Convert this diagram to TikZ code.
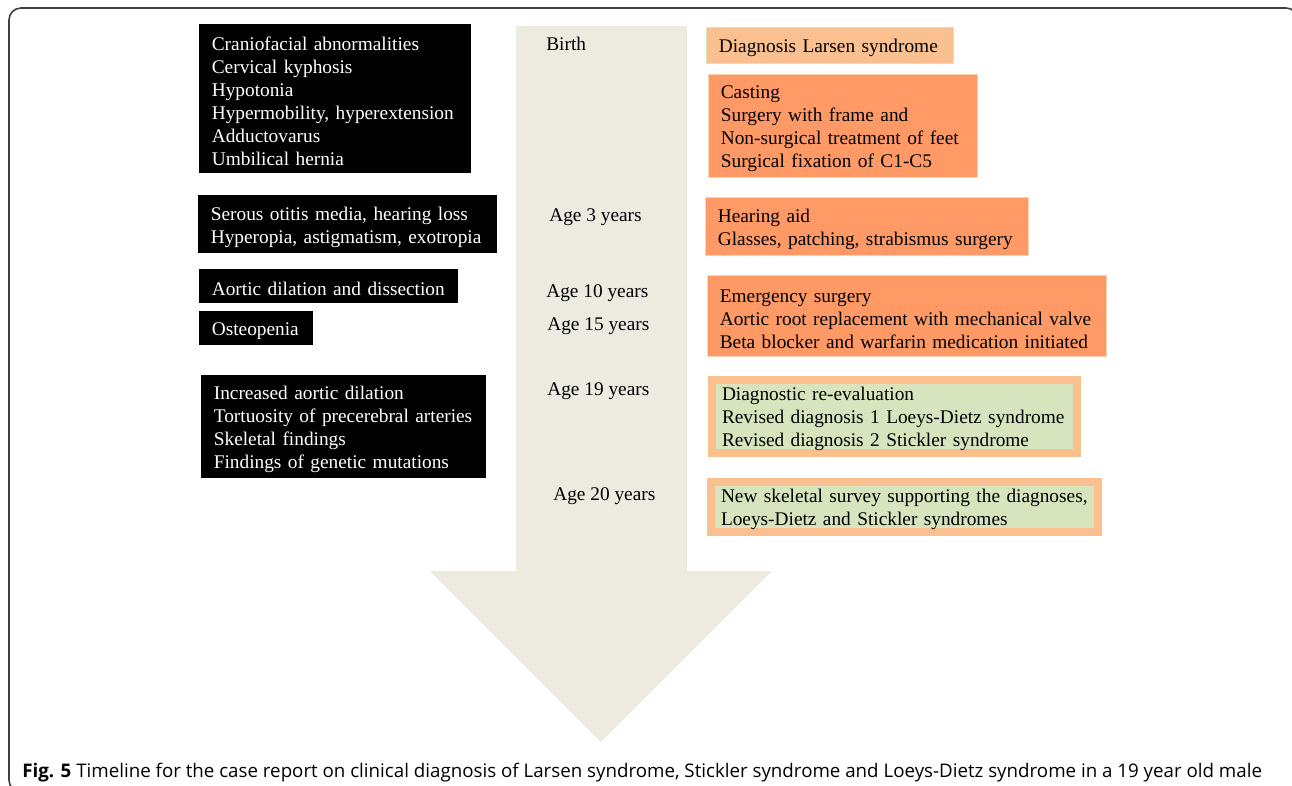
\documentclass[tikz,border=0pt]{standalone}
\usepackage{fontspec}
\setmainfont{Liberation Serif}
\newfontfamily\capfont{Open Sans}
\definecolor{arrowbeige}{RGB}{237,234,224}
\definecolor{peach}{RGB}{250,192,144}
\definecolor{careorange}{RGB}{255,153,102}
\definecolor{dxgreen}{RGB}{215,228,189}
\newcommand{\boxfont}{\fontsize{11}{13.1}\selectfont}
\begin{document}
\begin{tikzpicture}[x=0.02cm, y=-0.02cm,
    every node/.style={font=\boxfont},
    tbox/.style={anchor=north west, align=left, inner ysep=0pt,
      execute at begin node={\rightskip=0pt plus 1fil minus 1cm\rule{0pt}{0.38cm}}},
    sign/.style={tbox, fill=black, text=white, inner xsep=0.25cm},
    care/.style={tbox, fill=careorange, draw=peach!70, line width=0.4pt, inner xsep=0.25cm},
    dx/.style={tbox, fill=dxgreen, draw=peach, line width=0.16cm, inner xsep=0.2cm},
    age/.style={anchor=base west, inner sep=0pt}]
  \useasboundingbox (0,0) rectangle (1292,785);
  \clip (0,0) rectangle (1292,785);
  \draw[black!75, line width=0.9pt, rounded corners=0.24cm] (9,8) rectangle (1298,792);

  % time arrow
  \fill[arrowbeige] (516,26) -- (687,26) -- (687,571) -- (772,571) -- (601,742)
    -- (430,571) -- (516,571) -- cycle;

  % findings
  \node[sign, text width=4.94cm, minimum height=2.98cm] (infant) at (199,24)
    {Craniofacial abnormalities\\Cervical kyphosis\\Hypotonia\\Hypermobility, hyperextension\\Adductovarus\\Umbilical hernia};
  \node[sign, text width=5.48cm, minimum height=1.16cm] (senses) at (198,195)
    {Serous otitis media, hearing loss\\Hyperopia, astigmatism, exotropia};
  \node[sign, text width=4.68cm, minimum height=0.68cm] (aorta) at (199,269)
    {Aortic dilation and dissection};
  \node[sign, text width=1.78cm, minimum height=0.68cm] (bone) at (199,311)
    {Osteopenia};
  \node[sign, text width=5.20cm, minimum height=2.06cm] (adult) at (201,375)
    {Increased aortic dilation\\Tortuosity of precerebral arteries\\Skeletal findings\\Findings of genetic mutations};

  % ages
  \node[age] (birth) at (546,50) {Birth};
  \node[age] (age3) at (549,221.5) {Age 3 years};
  \node[age] (age10) at (546,297.5) {Age 10 years};
  \node[age] (age15) at (547,330.5) {Age 15 years};
  \node[age] (age19) at (547,395.5) {Age 19 years};
  \node[age] (age20) at (553,500.5) {Age 20 years};

  % treatment and diagnoses
  \node[tbox, fill=peach, draw=dxgreen, line width=0.4pt, inner xsep=0.25cm,
    text width=4.44cm, minimum height=0.72cm] (larsen) at (706,27)
    {Diagnosis Larsen syndrome};
  \node[care, text width=4.88cm, minimum height=2.06cm] (casting) at (708,74)
    {Casting\\Surgery with frame and\\Non-surgical treatment of feet\\Surgical fixation of C1-C5};
  \node[care, text width=5.96cm, minimum height=1.16cm] (hearing) at (705,197)
    {Hearing aid\\Glasses, patching, strabismus surgery};
  \node[care, text width=7.48cm, minimum height=1.62cm] (emergency) at (707,275)
    {Emergency surgery\\Aortic root replacement with mechanical valve\\Beta blocker and warfarin medication initiated};
  \node[dx, text width=6.9cm, minimum height=1.46cm] (revised) at (708,376)
    {Diagnostic re-evaluation\\Revised diagnosis 1 Loeys-Dietz syndrome\\Revised diagnosis 2 Stickler syndrome};
  \node[dx, text width=7.34cm, minimum height=1.0cm] (survey) at (707,478)
    {New skeletal survey supporting the diagnoses,\\Loeys-Dietz and Stickler syndromes};

  \node[anchor=base west, inner sep=0pt, font=\capfont\fontsize{10.66}{12}\selectfont] (caption) at (22,777)
    {\textbf{Fig. 5} Timeline for the case report on clinical diagnosis of Larsen syndrome, Stickler syndrome and Loeys-Dietz syndrome in a 19 year old male};
\end{tikzpicture}
\end{document}
